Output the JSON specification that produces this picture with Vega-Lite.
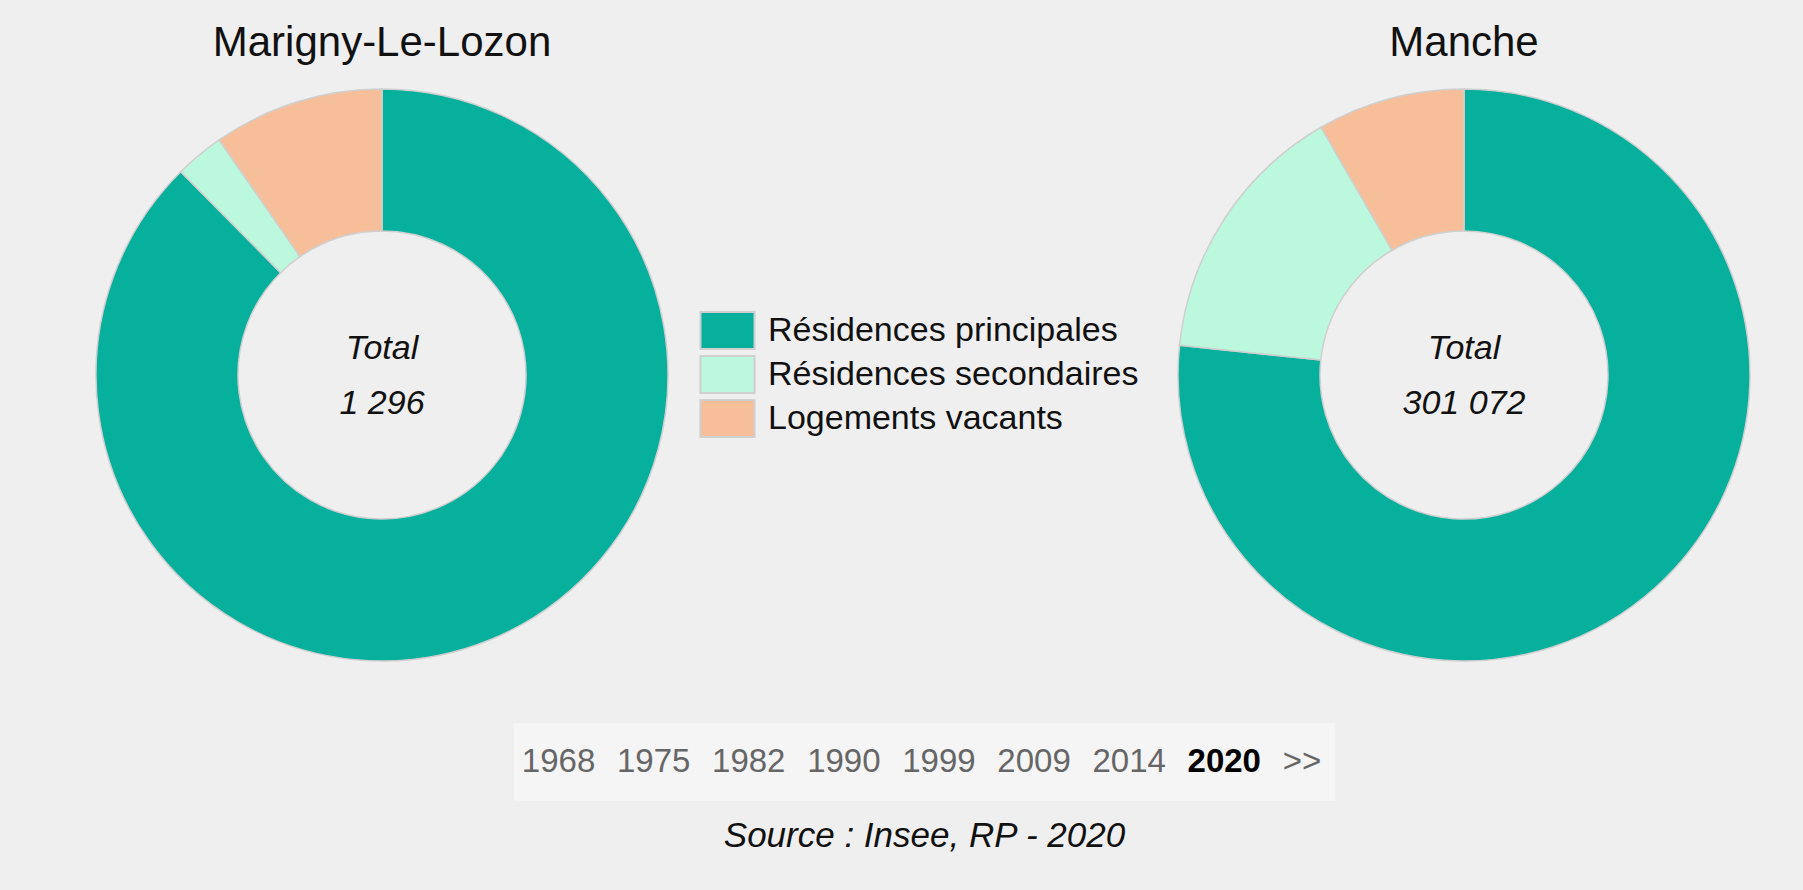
{
  "$schema": "https://vega.github.io/schema/vega-lite/v6.json",
  "background": "#efefef",
  "padding": {"left": 93, "right": 62, "top": 22, "bottom": 41},
  "config": {
    "font": "Liberation Sans",
    "view": {"stroke": null},
    "locale": {"number": {"decimal": ",", "thousands": " ", "grouping": [3], "currency": ["", " €"]}}
  },
  "datasets": {
    "logements": [
      {"zone": "Marigny-Le-Lozon", "categorie": "Résidences principales", "ordre": 1, "nombre": 1135},
      {"zone": "Marigny-Le-Lozon", "categorie": "Résidences secondaires", "ordre": 2, "nombre": 36},
      {"zone": "Marigny-Le-Lozon", "categorie": "Logements vacants", "ordre": 3, "nombre": 125},
      {"zone": "Manche", "categorie": "Résidences principales", "ordre": 1, "nombre": 230800},
      {"zone": "Manche", "categorie": "Résidences secondaires", "ordre": 2, "nombre": 45200},
      {"zone": "Manche", "categorie": "Logements vacants", "ordre": 3, "nombre": 25072}
    ],
    "annees": [
      {"annee": "1968", "actif": false},
      {"annee": "1975", "actif": false},
      {"annee": "1982", "actif": false},
      {"annee": "1990", "actif": false},
      {"annee": "1999", "actif": false},
      {"annee": "2009", "actif": false},
      {"annee": "2014", "actif": false},
      {"annee": "2020", "actif": true},
      {"annee": ">>", "actif": false}
    ]
  },
  "vconcat": [
    {
      "hconcat": [
        {
          "title": {"text": "Marigny-Le-Lozon", "fontSize": 42, "fontWeight": "normal", "color": "#111111", "baseline": "alphabetic", "offset": -12},
          "width": 572,
          "height": 572,
          "data": {"name": "logements"},
          "transform": [{"filter": "datum.zone === 'Marigny-Le-Lozon'"}],
          "layer": [
            {
              "mark": {"type": "arc", "radius": 286, "radius2": 144, "stroke": "#cfcfcf", "strokeWidth": 1.5},
              "encoding": {
                "theta": {"field": "nombre", "type": "quantitative", "stack": true},
                "order": {"field": "ordre", "type": "quantitative"},
                "color": {
                  "field": "categorie", "type": "nominal",
                  "scale": {"domain": ["Résidences principales", "Résidences secondaires", "Logements vacants"], "range": ["#06b09d", "#bcf8dd", "#f6bf99"]},
                  "legend": {
                    "title": null, "orient": "none", "legendX": 612, "legendY": 222,
                    "symbolType": "M-1.46,-1H1.46V1H-1.46Z", "symbolSize": 1369,
                    "symbolStrokeColor": "#cccccc", "symbolStrokeWidth": 2, "symbolOpacity": 1,
                    "labelFontSize": 34, "labelColor": "#111111", "labelOffset": 21, "rowPadding": -1, "labelLimit": 600
                  }
                }
              }
            },
            {
              "transform": [{"aggregate": [{"op": "sum", "field": "nombre", "as": "total"}]}],
              "mark": {"type": "text", "text": "Total", "fontSize": 34, "fontStyle": "italic", "color": "#111111", "dy": -16, "baseline": "alphabetic"},
              "encoding": {}
            },
            {
              "transform": [{"aggregate": [{"op": "sum", "field": "nombre", "as": "total"}]}],
              "mark": {"type": "text", "fontSize": 34, "fontStyle": "italic", "color": "#111111", "dy": 39, "baseline": "alphabetic"},
              "encoding": {"text": {"field": "total", "type": "quantitative", "format": ","}}
            }
          ]
        },
        {
          "title": {"text": "Manche", "fontSize": 42, "fontWeight": "normal", "color": "#111111", "baseline": "alphabetic", "offset": -12},
          "width": 572,
          "height": 572,
          "data": {"name": "logements"},
          "transform": [{"filter": "datum.zone === 'Manche'"}],
          "layer": [
            {
              "mark": {"type": "arc", "radius": 286, "radius2": 144, "stroke": "#cfcfcf", "strokeWidth": 1.5},
              "encoding": {
                "theta": {"field": "nombre", "type": "quantitative", "stack": true},
                "order": {"field": "ordre", "type": "quantitative"},
                "color": {"field": "categorie", "type": "nominal"}
              }
            },
            {
              "transform": [{"aggregate": [{"op": "sum", "field": "nombre", "as": "total"}]}],
              "mark": {"type": "text", "text": "Total", "fontSize": 34, "fontStyle": "italic", "color": "#111111", "dy": -16, "baseline": "alphabetic"},
              "encoding": {}
            },
            {
              "transform": [{"aggregate": [{"op": "sum", "field": "nombre", "as": "total"}]}],
              "mark": {"type": "text", "fontSize": 34, "fontStyle": "italic", "color": "#111111", "dy": 39, "baseline": "alphabetic"},
              "encoding": {"text": {"field": "total", "type": "quantitative", "format": ","}}
            }
          ]
        }
      ],
      "spacing": 504
    },
    {
      "width": 821,
      "height": 78,
      "view": {"fill": "#f5f5f5", "stroke": null},
      "title": {"text": "Source : Insee, RP - 2020", "orient": "bottom", "fontSize": 35, "fontStyle": "italic", "fontWeight": "normal", "color": "#111111", "baseline": "alphabetic", "offset": 46},
      "data": {"name": "annees"},
      "encoding": {
        "x": {"field": "annee", "type": "ordinal", "sort": null, "axis": null,
              "scale": {"type": "point", "domain": ["1968", "1975", "1982", "1990", "1999", "2009", "2014", "2020", ">>"], "padding": 0.3165, "align": 0.13}}
      },
      "layer": [
        {
          "transform": [{"filter": "!datum.actif"}],
          "mark": {"type": "text", "align": "left", "baseline": "middle", "fontSize": 33, "color": "#666666"},
          "encoding": {"text": {"field": "annee"}}
        },
        {
          "transform": [{"filter": "datum.actif"}],
          "mark": {"type": "text", "align": "left", "baseline": "middle", "fontSize": 33, "fontWeight": "bold", "color": "#000000"},
          "encoding": {"text": {"field": "annee"}}
        }
      ]
    }
  ],
  "spacing": 59,
  "center": true,
  "resolve": {"scale": {"color": "shared"}}
}
